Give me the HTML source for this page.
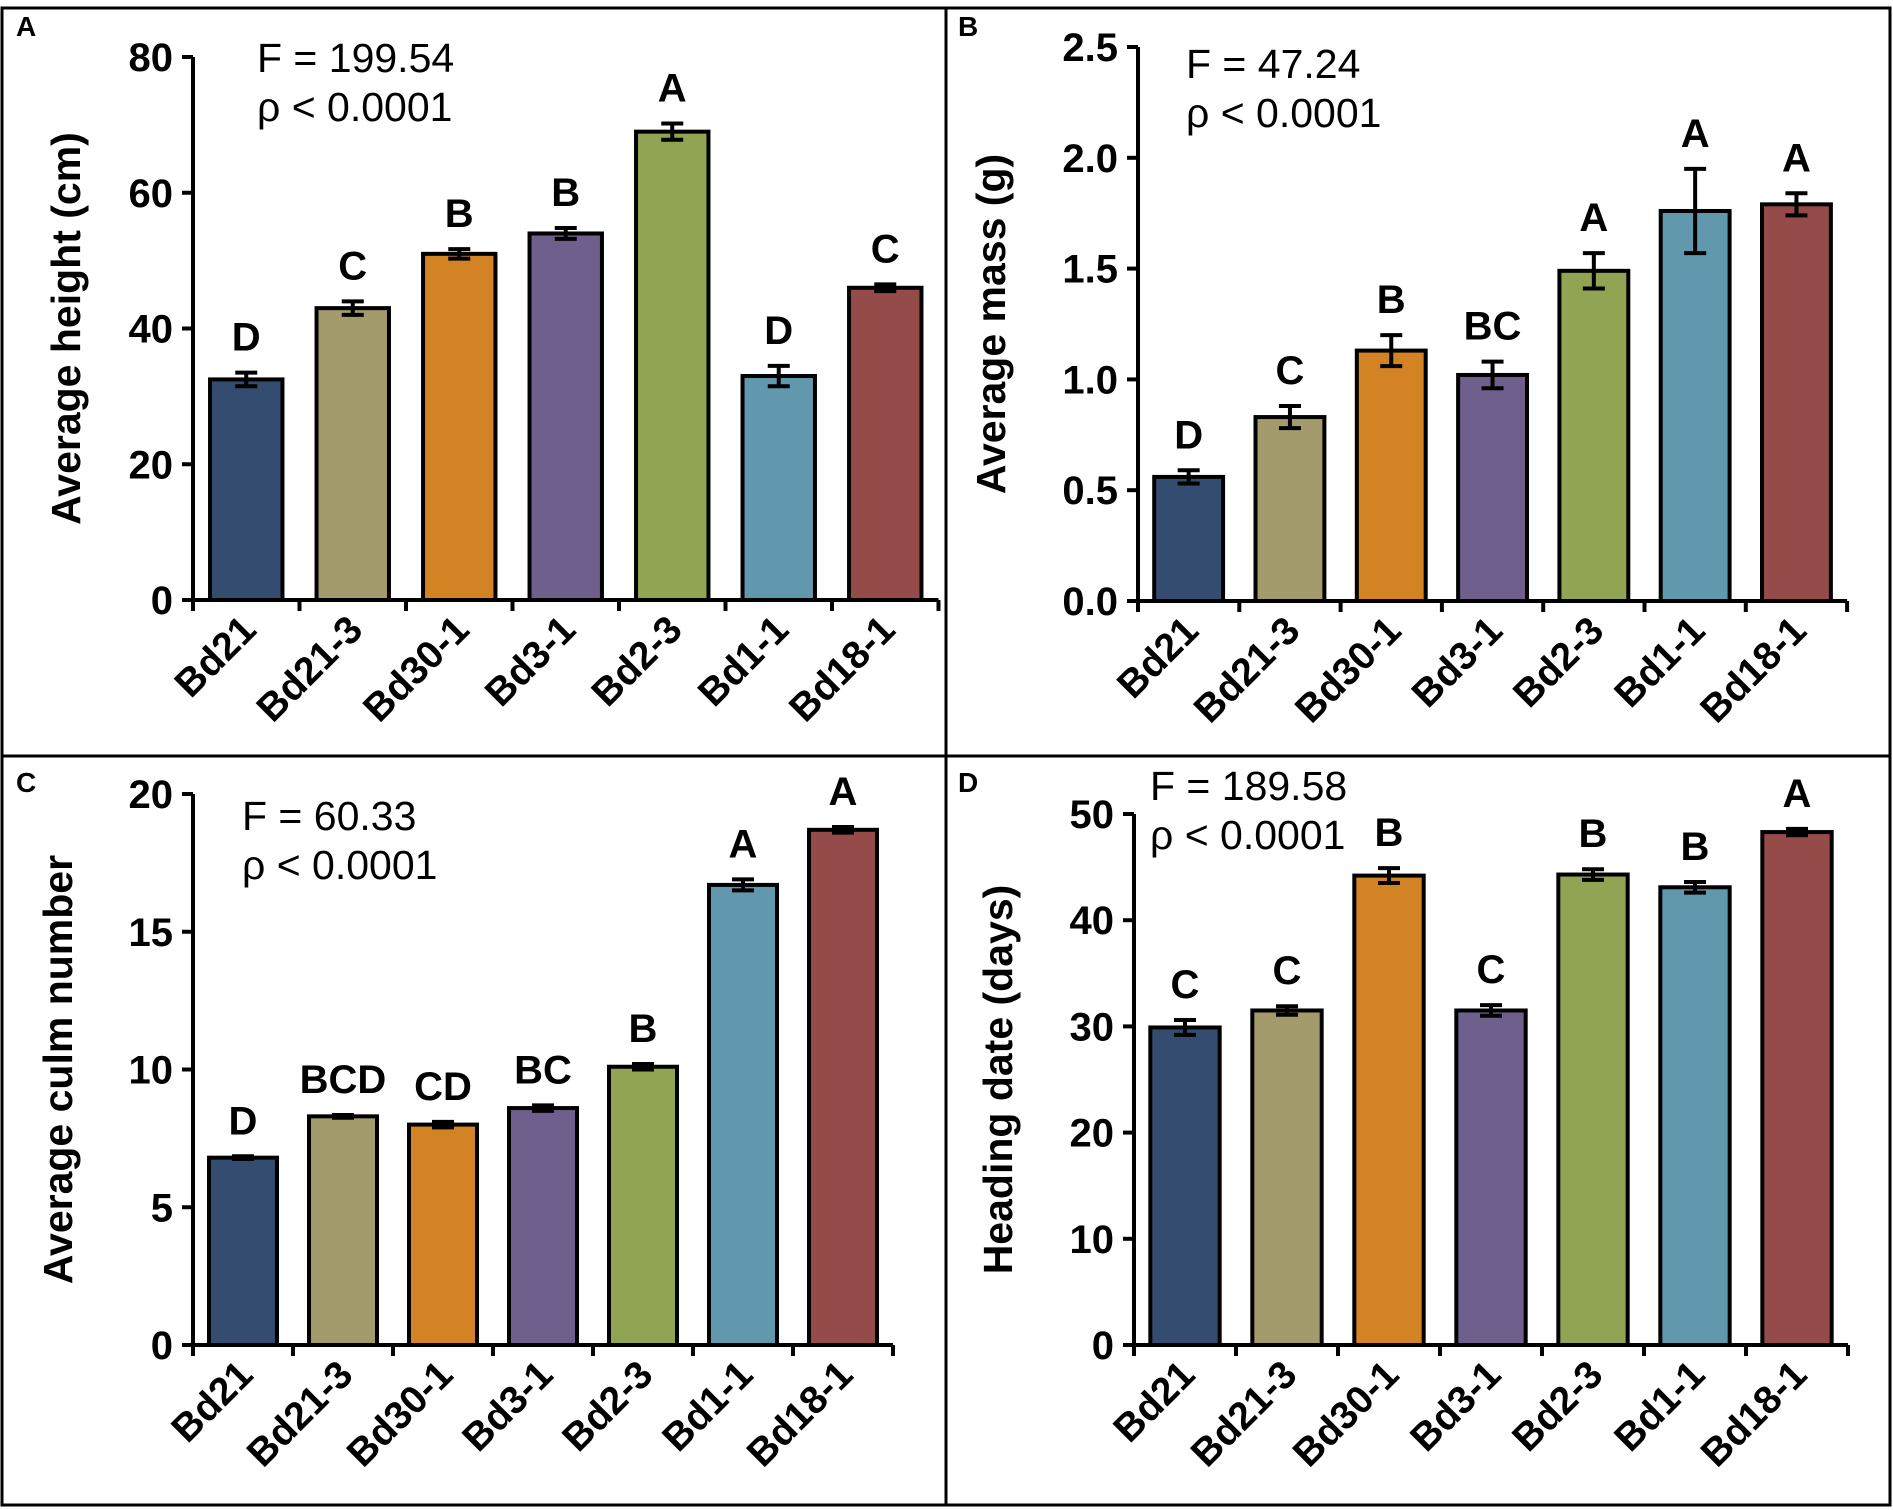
<!DOCTYPE html>
<html><head><meta charset="utf-8">
<style>
html,body{margin:0;padding:0;background:#fff;}
svg{display:block;font-family:"Liberation Sans",Arial,sans-serif;}
</style></head>
<body>
<svg id="fig" width="1893" height="1510" viewBox="0 0 1893 1510" xmlns="http://www.w3.org/2000/svg">
<rect x="2" y="8" width="1888" height="1497" fill="none" stroke="#000" stroke-width="3"/>
<line x1="946" y1="8" x2="946" y2="1505" stroke="#000" stroke-width="3"/>
<line x1="2" y1="756" x2="1890" y2="756" stroke="#000" stroke-width="3"/>
<g id="plots"></g>
</svg>
<script>
const categories = ["Bd21","Bd21-3","Bd30-1","Bd3-1","Bd2-3","Bd1-1","Bd18-1"];
const heightValues = [32.5,43,51,54,69,33,46];
const heightErrors = [1,1,0.7,0.8,1.2,1.5,0.5];
const heightLetters = ["D","C","B","B","A","D","C"];
const heightTicks = [0,20,40,60,80];
const massValues = [0.56,0.83,1.13,1.02,1.49,1.76,1.79];
const massErrors = [0.03,0.05,0.07,0.06,0.08,0.19,0.05];
const massLetters = ["D","C","B","BC","A","A","A"];
const massTicks = [0,0.5,1.0,1.5,2.0,2.5];
const culmValues = [6.8,8.3,8.0,8.6,10.1,16.7,18.7];
const culmErrors = [0.05,0.05,0.1,0.1,0.1,0.2,0.1];
const culmLetters = ["D","BCD","CD","BC","B","A","A"];
const culmTicks = [0,5,10,15,20];
const headingValues = [29.9,31.5,44.2,31.5,44.3,43.1,48.3];
const headingErrors = [0.7,0.4,0.7,0.5,0.5,0.5,0.3];
const headingLetters = ["C","C","B","C","B","B","A"];
const headingTicks = [0,10,20,30,40,50];
const colors = ["#344c70","#a39b6b","#d38224","#6f5f8c","#90a453","#6298ae","#954b4a"];

const NS="http://www.w3.org/2000/svg";
const root=document.getElementById('plots');
function mk(tag,attrs,parent){const e=document.createElementNS(NS,tag);for(const k in attrs)e.setAttribute(k,attrs[k]);(parent||root).appendChild(e);return e;}

function panel(cfg){
  const g=mk('g',{});
  
  
  const ymax=cfg.ticks[cfg.ticks.length-1];
  const yS=v=>cfg.y0-(v/ymax)*(cfg.y0-cfg.yTop);
  const xS=i=>cfg.x0+cfg.slot*(i+0.5);
  const bw=cfg.slot*0.68;
  const pl=mk('text',{x:cfg.lx,y:cfg.ly,'font-size':28,'font-weight':'bold'},g);pl.textContent=cfg.id;
  
  
  cfg.values.forEach((v,i)=>{
    const r=mk('rect',{x:xS(i)-bw/2,y:yS(v),width:bw,height:cfg.y0-yS(v),fill:colors[i],stroke:'#000','stroke-width':4},g);
    
    
    const e=cfg.errors[i], t=yS(v+e), b=yS(v-e), cx=xS(i);
    const eb=mk('path',{d:`M${cx},${t}V${b}M${cx-11},${t}H${cx+11}M${cx-11},${b}H${cx+11}`,stroke:'#000','stroke-width':4,fill:'none'},g);
    
    
    const lt=mk('text',{x:cx,y:t-22,'font-size':40,'font-weight':'bold','text-anchor':'middle'},g);lt.textContent=cfg.letters[i];
    
    
    const xl=mk('text',{x:0,y:0,'font-size':39,'font-weight':'bold','text-anchor':'end',transform:`translate(${cx+12},${cfg.y0+32}) rotate(-45)`},g);
    xl.textContent=categories[i];
    
    
  });
  const xe=cfg.x0+cfg.slot*7;
  const ax=mk('path',{d:`M${cfg.x0},${cfg.yTop}V${cfg.y0}H${xe}`,stroke:'#000','stroke-width':4,fill:'none'},g);
  
  
  for(let i=0;i<=7;i++){mk('line',{x1:cfg.x0+cfg.slot*i,x2:cfg.x0+cfg.slot*i,y1:cfg.y0,y2:cfg.y0+11,stroke:'#000','stroke-width':4},g);}
  cfg.ticks.forEach(t=>{
    const y=yS(t);
    mk('line',{x1:cfg.x0-11,x2:cfg.x0,y1:y,y2:y,stroke:'#000','stroke-width':4},g);
    const tl=mk('text',{x:cfg.x0-20,y:y+14,'font-size':40,'font-weight':'bold','text-anchor':'end'},g);
    tl.textContent=cfg.fmt(t);
    
    
  });
  const yt=mk('text',{x:0,y:0,'font-size':41,'font-weight':'bold','text-anchor':'middle',transform:`translate(${cfg.tx},${(cfg.y0+cfg.yTop)/2}) rotate(-90)`},g);
  yt.textContent=cfg.title;
  
  
  const f=mk('text',{x:cfg.fx,y:cfg.fy,'font-size':41},g);f.textContent=cfg.F;
  
  
  const p=mk('text',{x:cfg.fx,y:cfg.fy+49,'font-size':41},g);p.textContent='ρ < 0.0001';
  
  
}
panel({id:'A',values:heightValues,errors:heightErrors,letters:heightLetters,ticks:heightTicks,fmt:t=>String(t),
  x0:193,slot:106.5,yTop:57,y0:600,lx:16,ly:36,tx:80,title:'Average height (cm)',F:'F = 199.54',fx:257,fy:72});
panel({id:'B',values:massValues,errors:massErrors,letters:massLetters,ticks:massTicks,fmt:t=>t.toFixed(1),
  x0:1138,slot:101.3,yTop:47,y0:601,lx:958,ly:36,tx:1005,title:'Average mass (g)',F:'F = 47.24',fx:1186,fy:78});
panel({id:'C',values:culmValues,errors:culmErrors,letters:culmLetters,ticks:culmTicks,fmt:t=>String(t),
  x0:193,slot:100,yTop:794,y0:1345,lx:16,ly:792,tx:72,title:'Average culm number',F:'F = 60.33',fx:242,fy:830});
panel({id:'D',values:headingValues,errors:headingErrors,letters:headingLetters,ticks:headingTicks,fmt:t=>String(t),
  x0:1134,slot:102,yTop:814,y0:1345,lx:958,ly:792,tx:1012,title:'Heading date (days)',F:'F = 189.58',fx:1150,fy:800});
</script>
</body></html>
